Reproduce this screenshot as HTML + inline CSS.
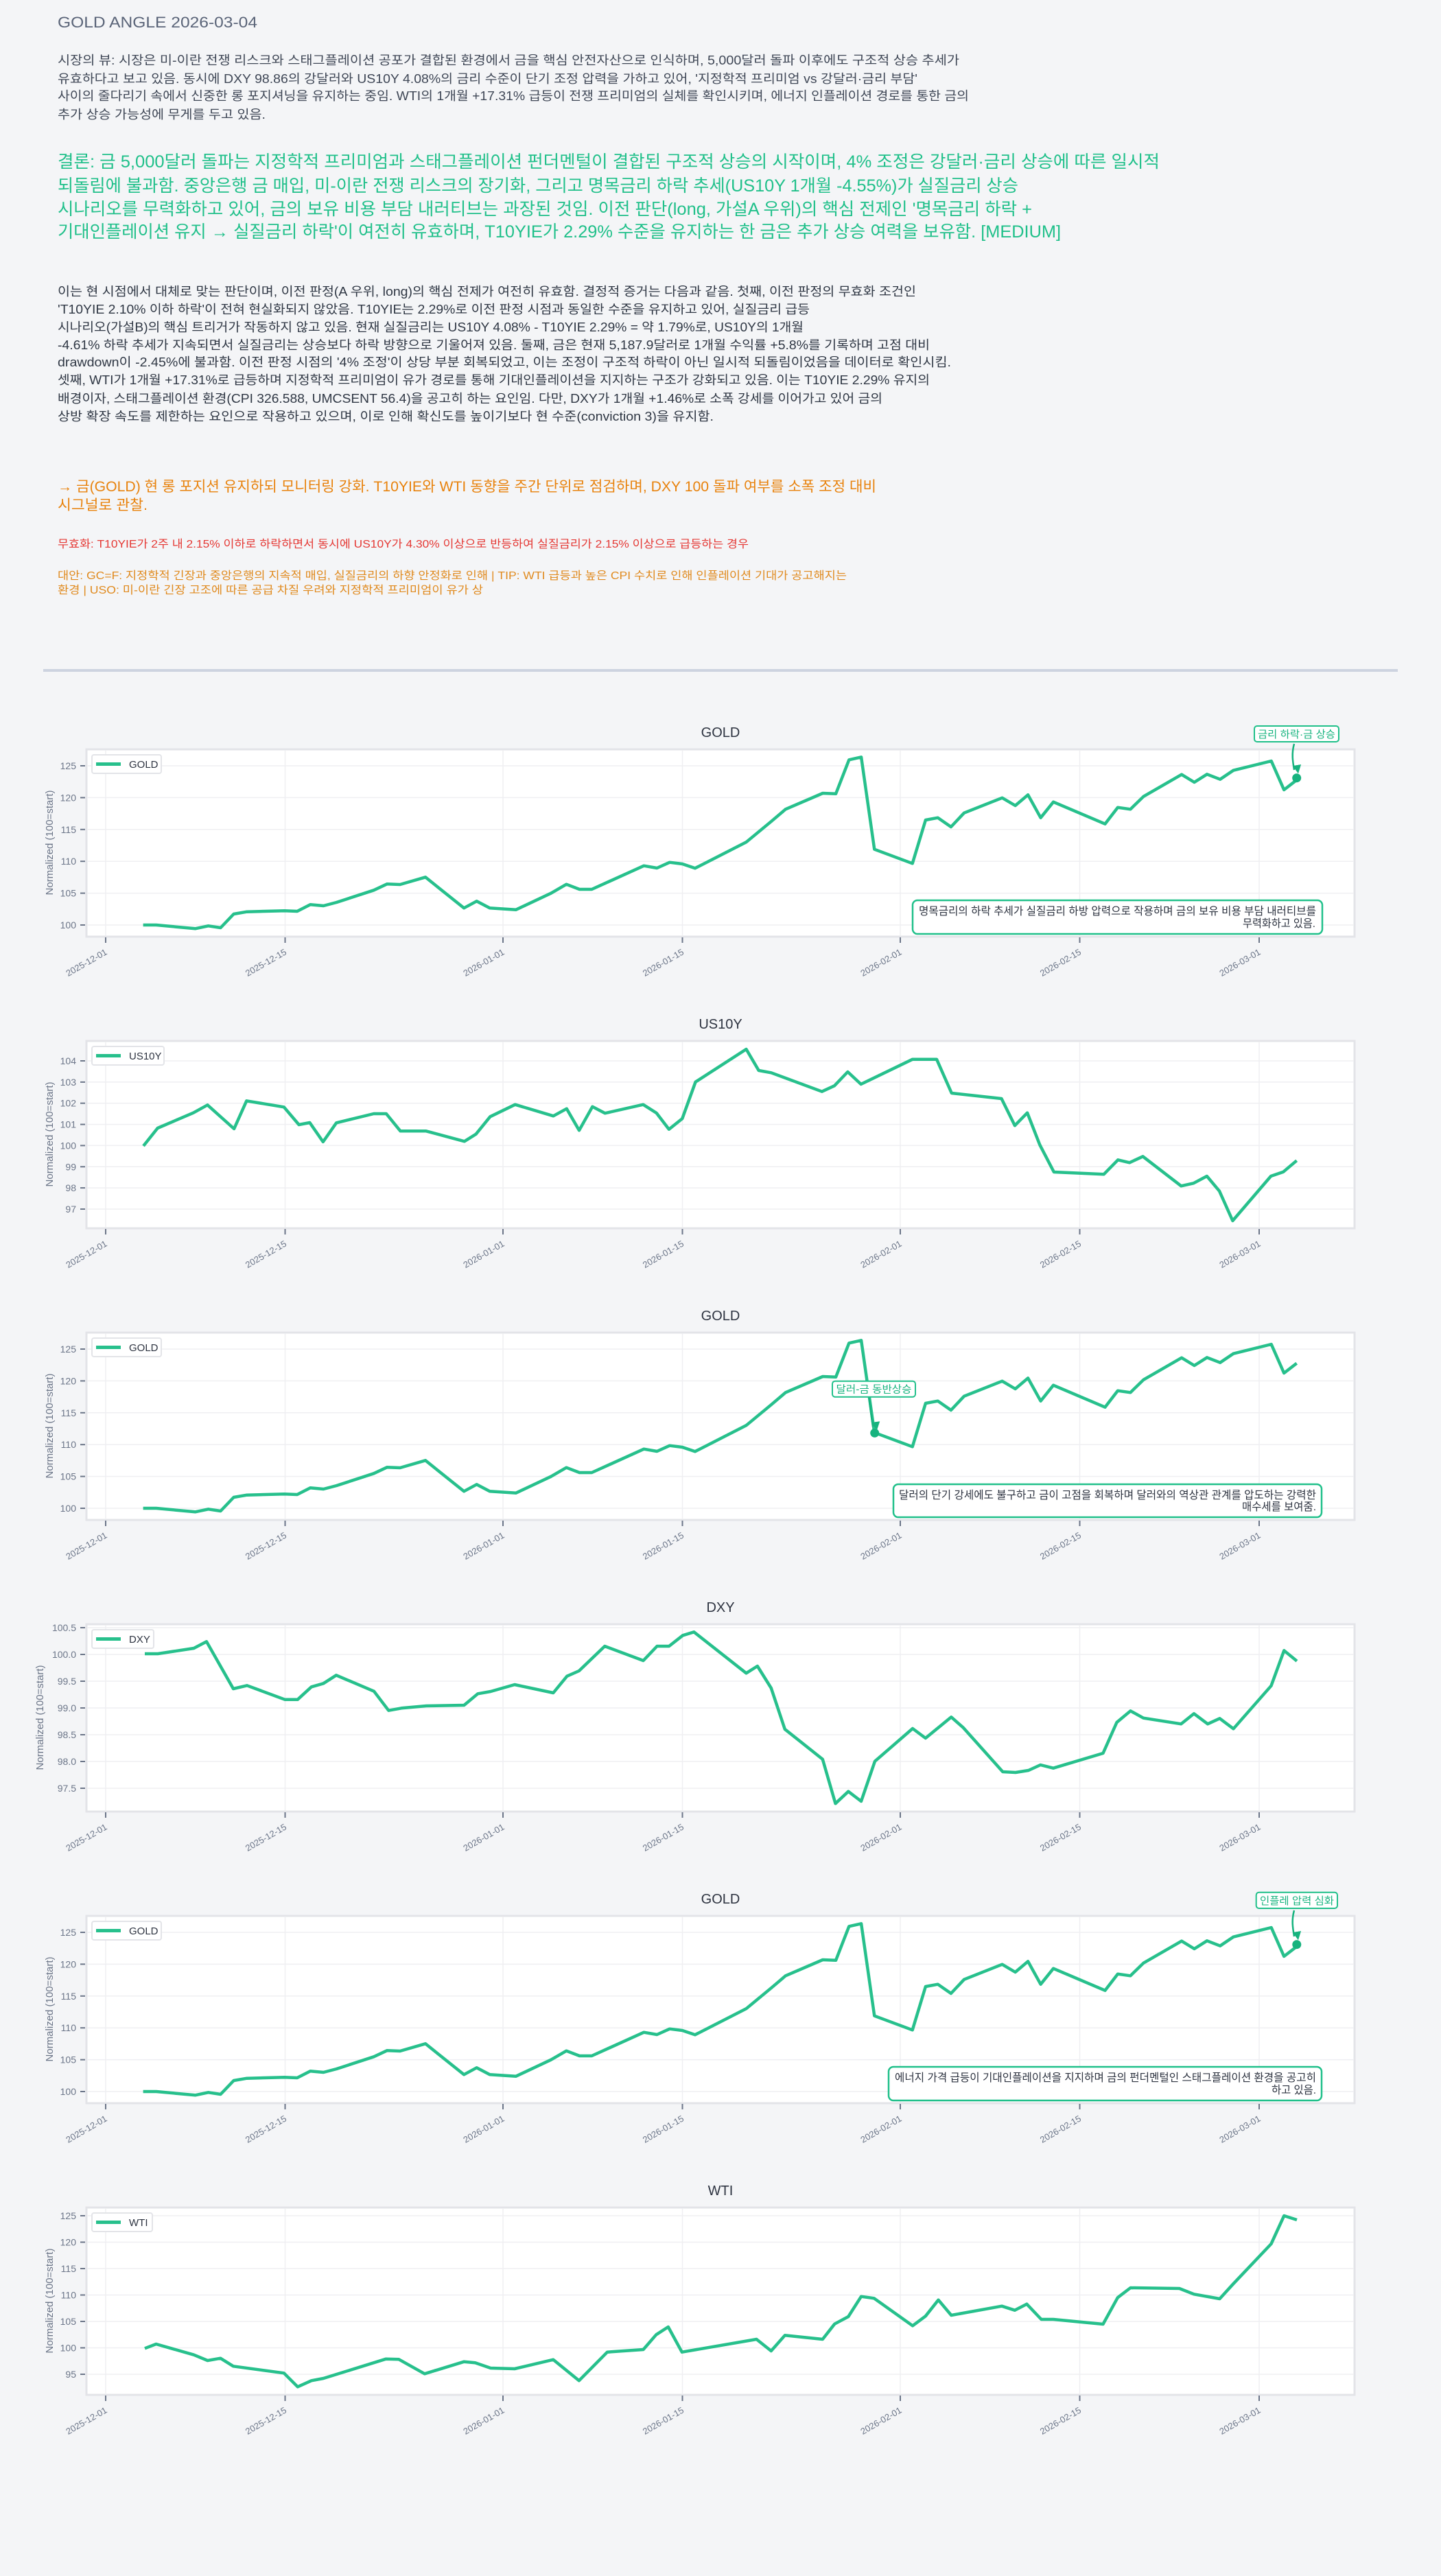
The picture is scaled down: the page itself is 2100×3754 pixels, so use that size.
<!DOCTYPE html>
<html><head><meta charset="utf-8"><style>
html,body{margin:0;padding:0;background:#f4f5f7;}
svg{display:block}
text{font-family:"Liberation Sans","Noto Sans CJK KR",sans-serif;}
</style></head><body>
<svg width="2100" height="3754" viewBox="0 0 2100 3754" xmlns="http://www.w3.org/2000/svg">
<defs>
<polyline id="gold" fill="none" stroke="#27c08c" stroke-width="4.5" stroke-linejoin="round" points="208.6,308 227.7,308 284.5,313.3 303.6,309.3 321.5,312 340.6,292 359.8,288.7 414.6,287.3 433.1,288 452.2,278.3 471.4,280 490.5,275 544.7,257.3 563.9,248.3 583,249 620,238.3 676.1,283.3 694.6,273.3 713.7,283.3 752,285.7 803,261.7 825.4,248.7 844.5,256 862.4,256 938.3,221.7 957.4,225 975.9,216.7 994.4,219 1012.9,225.3 1087.4,187.3 1124.4,156.7 1144.8,139.3 1199,116 1218.1,116.7 1237.3,67.3 1255.1,63.3 1274.3,197.7 1329.7,218.3 1348.9,155 1366.7,151.7 1385.9,165 1405,144.7 1460.5,122.7 1479.6,134 1498.1,118.3 1516.6,151.7 1535.1,128.7 1610.4,160.7 1628.9,136.7 1647.4,139.3 1666.5,120.7 1722,88.7 1740.5,100 1759,88.3 1778.1,95.7 1797.3,82.7 1852.7,69 1871.2,111 1889.7,96.7"/>
<g id="frame">
<rect x="126" y="52" width="1848" height="273" fill="#fff" stroke="#e3e4e8" stroke-width="3"/>
<g stroke="#efeff2" stroke-width="1.5">
<line x1="154" y1="53" x2="154" y2="324"/><line x1="415.5" y1="53" x2="415.5" y2="324"/><line x1="733" y1="53" x2="733" y2="324"/><line x1="994.5" y1="53" x2="994.5" y2="324"/><line x1="1312" y1="53" x2="1312" y2="324"/><line x1="1573.5" y1="53" x2="1573.5" y2="324"/><line x1="1835" y1="53" x2="1835" y2="324"/>
</g>
<g stroke="#6b7588" stroke-width="2">
<line x1="154" y1="326" x2="154" y2="334"/><line x1="415.5" y1="326" x2="415.5" y2="334"/><line x1="733" y1="326" x2="733" y2="334"/><line x1="994.5" y1="326" x2="994.5" y2="334"/><line x1="1312" y1="326" x2="1312" y2="334"/><line x1="1573.5" y1="326" x2="1573.5" y2="334"/><line x1="1835" y1="326" x2="1835" y2="334"/>
</g>
<g font-size="13" fill="#6b7588" text-anchor="end">
<text transform="translate(157,350) rotate(-30)">2025-12-01</text>
<text transform="translate(418.5,350) rotate(-30)">2025-12-15</text>
<text transform="translate(736,350) rotate(-30)">2026-01-01</text>
<text transform="translate(997.5,350) rotate(-30)">2026-01-15</text>
<text transform="translate(1315,350) rotate(-30)">2026-02-01</text>
<text transform="translate(1576.5,350) rotate(-30)">2026-02-15</text>
<text transform="translate(1838,350) rotate(-30)">2026-03-01</text>
</g>
</g>
<marker id="arr" viewBox="0 0 10 10" refX="5" refY="9" markerWidth="5" markerHeight="5" orient="auto-start-reverse"><path d="M0,0 L10,5 L0,10 z" fill="#16b37e"/></marker>
</defs>

<!-- Header text -->
<text x="84" y="40" font-size="22" fill="#5a6478" textLength="291" lengthAdjust="spacingAndGlyphs">GOLD ANGLE  2026-03-04</text>
<g font-size="18" fill="#3f4756">
<text x="84" y="94" textLength="1314" lengthAdjust="spacingAndGlyphs">시장의 뷰: 시장은 미-이란 전쟁 리스크와 스태그플레이션 공포가 결합된 환경에서 금을 핵심 안전자산으로 인식하며, 5,000달러 돌파 이후에도 구조적 상승 추세가</text>
<text x="84" y="121" textLength="1253" lengthAdjust="spacingAndGlyphs">유효하다고 보고 있음. 동시에 DXY 98.86의 강달러와 US10Y 4.08%의 금리 수준이 단기 조정 압력을 가하고 있어, '지정학적 프리미엄 vs 강달러·금리 부담'</text>
<text x="84" y="146" textLength="1328" lengthAdjust="spacingAndGlyphs">사이의 줄다리기 속에서 신중한 롱 포지셔닝을 유지하는 중임. WTI의 1개월 +17.31% 급등이 전쟁 프리미엄의 실체를 확인시키며, 에너지 인플레이션 경로를 통한 금의</text>
<text x="84" y="173" textLength="303" lengthAdjust="spacingAndGlyphs">추가 상승 가능성에 무게를 두고 있음.</text>
</g>
<g font-size="25" fill="#20c08a">
<text x="84" y="244" textLength="1606" lengthAdjust="spacingAndGlyphs">결론: 금 5,000달러 돌파는 지정학적 프리미엄과 스태그플레이션 펀더멘털이 결합된 구조적 상승의 시작이며, 4% 조정은 강달러·금리 상승에 따른 일시적</text>
<text x="84" y="279" textLength="1400" lengthAdjust="spacingAndGlyphs">되돌림에 불과함. 중앙은행 금 매입, 미-이란 전쟁 리스크의 장기화, 그리고 명목금리 하락 추세(US10Y 1개월 -4.55%)가 실질금리 상승</text>
<text x="84" y="313" textLength="1420" lengthAdjust="spacingAndGlyphs">시나리오를 무력화하고 있어, 금의 보유 비용 부담 내러티브는 과장된 것임. 이전 판단(long, 가설A 우위)의 핵심 전제인 '명목금리 하락 +</text>
<text x="84" y="346" textLength="1462" lengthAdjust="spacingAndGlyphs">기대인플레이션 유지 → 실질금리 하락'이 여전히 유효하며, T10YIE가 2.29% 수준을 유지하는 한 금은 추가 상승 여력을 보유함.  [MEDIUM]</text>
</g>
<g font-size="18" fill="#2f3744">
<text x="84" y="431" textLength="1251" lengthAdjust="spacingAndGlyphs">이는 현 시점에서 대체로 맞는 판단이며, 이전 판정(A 우위, long)의 핵심 전제가 여전히 유효함. 결정적 증거는 다음과 같음. 첫째, 이전 판정의 무효화 조건인</text>
<text x="84" y="457" textLength="1096" lengthAdjust="spacingAndGlyphs">'T10YIE 2.10% 이하 하락'이 전혀 현실화되지 않았음. T10YIE는 2.29%로 이전 판정 시점과 동일한 수준을 유지하고 있어, 실질금리 급등</text>
<text x="84" y="483" textLength="1087" lengthAdjust="spacingAndGlyphs">시나리오(가설B)의 핵심 트리거가 작동하지 않고 있음. 현재 실질금리는 US10Y 4.08% - T10YIE 2.29% = 약 1.79%로, US10Y의 1개월</text>
<text x="84" y="509" textLength="1271" lengthAdjust="spacingAndGlyphs">-4.61% 하락 추세가 지속되면서 실질금리는 상승보다 하락 방향으로 기울어져 있음. 둘째, 금은 현재 5,187.9달러로 1개월 수익률 +5.8%를 기록하며 고점 대비</text>
<text x="84" y="534" textLength="1302" lengthAdjust="spacingAndGlyphs">drawdown이 -2.45%에 불과함. 이전 판정 시점의 '4% 조정'이 상당 부분 회복되었고, 이는 조정이 구조적 하락이 아닌 일시적 되돌림이었음을 데이터로 확인시킴.</text>
<text x="84" y="560" textLength="1271" lengthAdjust="spacingAndGlyphs">셋째, WTI가 1개월 +17.31%로 급등하며 지정학적 프리미엄이 유가 경로를 통해 기대인플레이션을 지지하는 구조가 강화되고 있음. 이는 T10YIE 2.29% 유지의</text>
<text x="84" y="587" textLength="1202" lengthAdjust="spacingAndGlyphs">배경이자, 스태그플레이션 환경(CPI 326.588, UMCSENT 56.4)을 공고히 하는 요인임. 다만, DXY가 1개월 +1.46%로 소폭 강세를 이어가고 있어 금의</text>
<text x="84" y="613" textLength="956" lengthAdjust="spacingAndGlyphs">상방 확장 속도를 제한하는 요인으로 작용하고 있으며, 이로 인해 확신도를 높이기보다 현 수준(conviction 3)을 유지함.</text>
</g>
<g font-size="21" fill="#e8820c">
<text x="84" y="716" textLength="1193" lengthAdjust="spacingAndGlyphs">→ 금(GOLD) 현 롱 포지션 유지하되 모니터링 강화. T10YIE와 WTI 동향을 주간 단위로 점검하며, DXY 100 돌파 여부를 소폭 조정 대비</text>
<text x="84" y="743" textLength="131" lengthAdjust="spacingAndGlyphs">시그널로 관찰.</text>
</g>
<text x="84" y="798" font-size="16" fill="#e53935" textLength="1007" lengthAdjust="spacingAndGlyphs">무효화: T10YIE가 2주 내 2.15% 이하로 하락하면서 동시에 US10Y가 4.30% 이상으로 반등하여 실질금리가 2.15% 이상으로 급등하는 경우</text>
<g font-size="16" fill="#e08a1e">
<text x="84" y="844" textLength="1150" lengthAdjust="spacingAndGlyphs">대안: GC=F: 지정학적 긴장과 중앙은행의 지속적 매입, 실질금리의 하향 안정화로 인해  | TIP: WTI 급등과 높은 CPI 수치로 인해 인플레이션 기대가 공고해지는</text>
<text x="84" y="865" textLength="620" lengthAdjust="spacingAndGlyphs">환경 | USO: 미-이란 긴장 고조에 따른 공급 차질 우려와 지정학적 프리미엄이 유가 상</text>
</g>
<rect x="63" y="975" width="1974" height="4" fill="#cdd3e0"/>

<!-- Chart 1 GOLD -->
<g transform="translate(0,1040)">
<use href="#frame"/>
<g stroke="#efeff2" stroke-width="1.5"><line x1="127" y1="308" x2="1973" y2="308"/><line x1="127" y1="261.6" x2="1973" y2="261.6"/><line x1="127" y1="215.2" x2="1973" y2="215.2"/><line x1="127" y1="168.8" x2="1973" y2="168.8"/><line x1="127" y1="122.4" x2="1973" y2="122.4"/><line x1="127" y1="76" x2="1973" y2="76"/></g>
<g stroke="#6b7588" stroke-width="2"><line x1="117" y1="308" x2="124" y2="308"/><line x1="117" y1="261.6" x2="124" y2="261.6"/><line x1="117" y1="215.2" x2="124" y2="215.2"/><line x1="117" y1="168.8" x2="124" y2="168.8"/><line x1="117" y1="122.4" x2="124" y2="122.4"/><line x1="117" y1="76" x2="124" y2="76"/></g>
<g font-size="14" fill="#6b7588" text-anchor="end"><text x="111" y="313">100</text><text x="111" y="266.6">105</text><text x="111" y="220.2">110</text><text x="111" y="173.8">115</text><text x="111" y="127.4">120</text><text x="111" y="81">125</text></g>
<text transform="translate(77,188) rotate(-90)" font-size="15" fill="#6b7588" text-anchor="middle">Normalized (100=start)</text>
<text x="1050" y="34" font-size="20" fill="#2d3340" text-anchor="middle">GOLD</text>
<use href="#gold"/>
<rect x="134" y="60" width="101" height="27" rx="3" fill="#fff" stroke="#e3e4e8" stroke-width="2"/>
<line x1="140" y1="73.5" x2="176" y2="73.5" stroke="#27c08c" stroke-width="5"/>
<text x="188" y="79" font-size="15" fill="#2d3340">GOLD</text>
<circle cx="1889.7" cy="93.7" r="6.5" fill="#16b37e"/>
<rect x="1828" y="18" width="123" height="23" rx="4" fill="#fff" stroke="#20c08a" stroke-width="2"/>
<text x="1889.5" y="35" font-size="15" fill="#16b37e" text-anchor="middle" textLength="113" lengthAdjust="spacingAndGlyphs">금리 하락·금 상승</text>
<path d="M1886,44 C1882,58 1884,70 1886,82" fill="none" stroke="#16b37e" stroke-width="2.5" marker-end="url(#arr)"/>
<rect x="1330" y="272" width="597" height="49" rx="7" fill="#fff" stroke="#20c08a" stroke-width="2.5"/>
<text x="1918" y="293" font-size="16" fill="#2d3340" text-anchor="end" textLength="579" lengthAdjust="spacingAndGlyphs">명목금리의 하락 추세가 실질금리 하방 압력으로 작용하며 금의 보유 비용 부담 내러티브를</text>
<text x="1917" y="311" font-size="16" fill="#2d3340" text-anchor="end" textLength="106" lengthAdjust="spacingAndGlyphs">무력화하고 있음.</text>
</g>

<!-- Chart 2 US10Y -->
<g transform="translate(0,1465)">
<use href="#frame"/>
<g stroke="#efeff2" stroke-width="1.5"><line x1="127" y1="297" x2="1973" y2="297"/><line x1="127" y1="266.1" x2="1973" y2="266.1"/><line x1="127" y1="235.3" x2="1973" y2="235.3"/><line x1="127" y1="204.4" x2="1973" y2="204.4"/><line x1="127" y1="173.6" x2="1973" y2="173.6"/><line x1="127" y1="142.7" x2="1973" y2="142.7"/><line x1="127" y1="111.9" x2="1973" y2="111.9"/><line x1="127" y1="81" x2="1973" y2="81"/></g>
<g stroke="#6b7588" stroke-width="2"><line x1="117" y1="297" x2="124" y2="297"/><line x1="117" y1="266.1" x2="124" y2="266.1"/><line x1="117" y1="235.3" x2="124" y2="235.3"/><line x1="117" y1="204.4" x2="124" y2="204.4"/><line x1="117" y1="173.6" x2="124" y2="173.6"/><line x1="117" y1="142.7" x2="124" y2="142.7"/><line x1="117" y1="111.9" x2="124" y2="111.9"/><line x1="117" y1="81" x2="124" y2="81"/></g>
<g font-size="14" fill="#6b7588" text-anchor="end"><text x="111" y="302">97</text><text x="111" y="271.1">98</text><text x="111" y="240.3">99</text><text x="111" y="209.4">100</text><text x="111" y="178.6">101</text><text x="111" y="147.7">102</text><text x="111" y="116.9">103</text><text x="111" y="86">104</text></g>
<text transform="translate(77,188) rotate(-90)" font-size="15" fill="#6b7588" text-anchor="middle">Normalized (100=start)</text>
<text x="1050" y="34" font-size="20" fill="#2d3340" text-anchor="middle">US10Y</text>
<polyline fill="none" stroke="#27c08c" stroke-width="4.5" stroke-linejoin="round" points="209,205 229.7,179 281.8,156.7 302.4,145.3 341.1,180 359.3,139.3 413.8,148.3 435.6,174 451.4,171 470.8,199 490.2,171.3 544.7,158 562.9,158 583.5,183.3 621,183.3 676.8,198.3 693.7,187.7 714.3,162.3 750.7,144.7 806.4,161.3 825.8,150.7 844,182.3 863.4,147.7 881.6,157.3 937.3,144.7 956.7,157 974.9,180.7 994.2,165.3 1013.6,111.7 1087.5,64 1105.7,95 1123.9,98.3 1197.8,125.7 1216,117.3 1235.4,97 1254.7,115 1329.9,78.7 1365,78.7 1386.8,128 1459.5,136 1478.9,175.3 1497.1,156.7 1515.3,203.3 1535.9,243 1608.6,246.3 1629.2,225.3 1646.1,229.3 1665.5,220.3 1721.3,263.3 1739.4,259.3 1758.8,249 1777,270.7 1796.4,314 1852.1,249 1870.3,242.7 1889.7,226.3"/>
<rect x="134" y="60" width="105" height="27" rx="3" fill="#fff" stroke="#e3e4e8" stroke-width="2"/>
<line x1="140" y1="73.5" x2="176" y2="73.5" stroke="#27c08c" stroke-width="5"/>
<text x="188" y="79" font-size="15" fill="#2d3340">US10Y</text>
</g>

<!-- Chart 3 GOLD -->
<g transform="translate(0,1890)">
<use href="#frame"/>
<g stroke="#efeff2" stroke-width="1.5"><line x1="127" y1="308" x2="1973" y2="308"/><line x1="127" y1="261.6" x2="1973" y2="261.6"/><line x1="127" y1="215.2" x2="1973" y2="215.2"/><line x1="127" y1="168.8" x2="1973" y2="168.8"/><line x1="127" y1="122.4" x2="1973" y2="122.4"/><line x1="127" y1="76" x2="1973" y2="76"/></g>
<g stroke="#6b7588" stroke-width="2"><line x1="117" y1="308" x2="124" y2="308"/><line x1="117" y1="261.6" x2="124" y2="261.6"/><line x1="117" y1="215.2" x2="124" y2="215.2"/><line x1="117" y1="168.8" x2="124" y2="168.8"/><line x1="117" y1="122.4" x2="124" y2="122.4"/><line x1="117" y1="76" x2="124" y2="76"/></g>
<g font-size="14" fill="#6b7588" text-anchor="end"><text x="111" y="313">100</text><text x="111" y="266.6">105</text><text x="111" y="220.2">110</text><text x="111" y="173.8">115</text><text x="111" y="127.4">120</text><text x="111" y="81">125</text></g>
<text transform="translate(77,188) rotate(-90)" font-size="15" fill="#6b7588" text-anchor="middle">Normalized (100=start)</text>
<text x="1050" y="34" font-size="20" fill="#2d3340" text-anchor="middle">GOLD</text>
<use href="#gold"/>
<rect x="134" y="60" width="101" height="27" rx="3" fill="#fff" stroke="#e3e4e8" stroke-width="2"/>
<line x1="140" y1="73.5" x2="176" y2="73.5" stroke="#27c08c" stroke-width="5"/>
<text x="188" y="79" font-size="15" fill="#2d3340">GOLD</text>
<circle cx="1274.7" cy="198.3" r="6.5" fill="#16b37e"/>
<rect x="1213" y="122.7" width="121" height="23" rx="4" fill="#fff" stroke="#20c08a" stroke-width="2"/>
<text x="1273.5" y="139.5" font-size="15" fill="#16b37e" text-anchor="middle" textLength="110" lengthAdjust="spacingAndGlyphs">달러-금 동반상승</text>
<path d="M1266.5,147 C1268,160 1270,175 1272,189" fill="none" stroke="#16b37e" stroke-width="2.5" marker-end="url(#arr)"/>
<rect x="1302" y="273" width="624" height="48" rx="7" fill="#fff" stroke="#20c08a" stroke-width="2.5"/>
<text x="1918" y="294" font-size="16" fill="#2d3340" text-anchor="end" textLength="608" lengthAdjust="spacingAndGlyphs">달러의 단기 강세에도 불구하고 금이 고점을 회복하며 달러와의 역상관 관계를 압도하는 강력한</text>
<text x="1918" y="311" font-size="16" fill="#2d3340" text-anchor="end" textLength="108" lengthAdjust="spacingAndGlyphs">매수세를 보여줌.</text>
</g>

<!-- Chart 4 DXY -->
<g transform="translate(0,2315)">
<use href="#frame"/>
<g stroke="#efeff2" stroke-width="1.5"><line x1="127" y1="291" x2="1973" y2="291"/><line x1="127" y1="252" x2="1973" y2="252"/><line x1="127" y1="213" x2="1973" y2="213"/><line x1="127" y1="174" x2="1973" y2="174"/><line x1="127" y1="135" x2="1973" y2="135"/><line x1="127" y1="96" x2="1973" y2="96"/><line x1="127" y1="57" x2="1973" y2="57"/></g>
<g stroke="#6b7588" stroke-width="2"><line x1="117" y1="291" x2="124" y2="291"/><line x1="117" y1="252" x2="124" y2="252"/><line x1="117" y1="213" x2="124" y2="213"/><line x1="117" y1="174" x2="124" y2="174"/><line x1="117" y1="135" x2="124" y2="135"/><line x1="117" y1="96" x2="124" y2="96"/><line x1="117" y1="57" x2="124" y2="57"/></g>
<g font-size="14" fill="#6b7588" text-anchor="end"><text x="111" y="296">97.5</text><text x="111" y="257">98.0</text><text x="111" y="218">98.5</text><text x="111" y="179">99.0</text><text x="111" y="140">99.5</text><text x="111" y="101">100.0</text><text x="111" y="62">100.5</text></g>
<text transform="translate(63,188) rotate(-90)" font-size="15" fill="#6b7588" text-anchor="middle">Normalized (100=start)</text>
<text x="1050" y="34" font-size="20" fill="#2d3340" text-anchor="middle">DXY</text>
<polyline fill="none" stroke="#27c08c" stroke-width="4.5" stroke-linejoin="round" points="211,95 230,95 282.5,87 301,77.3 340,146 360,141.3 415,161.7 433.8,161.7 453.8,143.3 471.3,138.3 490,126.3 545,149.7 566.3,177.7 585,174.3 621.3,171 676.3,170 696.3,153.3 715,150 750,140 806.3,152 826.3,127.7 843.8,120 881.3,84 937.5,105 957.5,84 975,84 995,68.3 1011.3,63.3 1087.5,123.3 1103.8,113 1123.8,145 1143.8,205 1198.8,248.7 1217.5,313.3 1236.3,295.7 1255,310 1275,251.7 1330,204 1348.8,218 1386.3,187.3 1403.8,202.7 1461.3,267 1480,268 1498.8,265 1516.3,257 1535,261.7 1607.5,240 1627.5,195 1647.5,178.3 1666.3,188.7 1721.3,197.3 1740,182.3 1760,197.3 1777.5,189.3 1797.5,204.3 1852.5,141.7 1871.3,90.3 1890,105.7"/>
<rect x="134" y="60" width="90" height="27" rx="3" fill="#fff" stroke="#e3e4e8" stroke-width="2"/>
<line x1="140" y1="73.5" x2="176" y2="73.5" stroke="#27c08c" stroke-width="5"/>
<text x="188" y="79" font-size="15" fill="#2d3340">DXY</text>
</g>

<!-- Chart 5 GOLD -->
<g transform="translate(0,2740)">
<use href="#frame"/>
<g stroke="#efeff2" stroke-width="1.5"><line x1="127" y1="308" x2="1973" y2="308"/><line x1="127" y1="261.6" x2="1973" y2="261.6"/><line x1="127" y1="215.2" x2="1973" y2="215.2"/><line x1="127" y1="168.8" x2="1973" y2="168.8"/><line x1="127" y1="122.4" x2="1973" y2="122.4"/><line x1="127" y1="76" x2="1973" y2="76"/></g>
<g stroke="#6b7588" stroke-width="2"><line x1="117" y1="308" x2="124" y2="308"/><line x1="117" y1="261.6" x2="124" y2="261.6"/><line x1="117" y1="215.2" x2="124" y2="215.2"/><line x1="117" y1="168.8" x2="124" y2="168.8"/><line x1="117" y1="122.4" x2="124" y2="122.4"/><line x1="117" y1="76" x2="124" y2="76"/></g>
<g font-size="14" fill="#6b7588" text-anchor="end"><text x="111" y="313">100</text><text x="111" y="266.6">105</text><text x="111" y="220.2">110</text><text x="111" y="173.8">115</text><text x="111" y="127.4">120</text><text x="111" y="81">125</text></g>
<text transform="translate(77,188) rotate(-90)" font-size="15" fill="#6b7588" text-anchor="middle">Normalized (100=start)</text>
<text x="1050" y="34" font-size="20" fill="#2d3340" text-anchor="middle">GOLD</text>
<use href="#gold"/>
<rect x="134" y="60" width="101" height="27" rx="3" fill="#fff" stroke="#e3e4e8" stroke-width="2"/>
<line x1="140" y1="73.5" x2="176" y2="73.5" stroke="#27c08c" stroke-width="5"/>
<text x="188" y="79" font-size="15" fill="#2d3340">GOLD</text>
<circle cx="1889.8" cy="93.7" r="6.5" fill="#16b37e"/>
<rect x="1830.7" y="17.7" width="118.3" height="23.3" rx="4" fill="#fff" stroke="#20c08a" stroke-width="2"/>
<text x="1890" y="35" font-size="15" fill="#16b37e" text-anchor="middle" textLength="108" lengthAdjust="spacingAndGlyphs">인플레 압력 심화</text>
<path d="M1886,44 C1882,58 1884,70 1886,82" fill="none" stroke="#16b37e" stroke-width="2.5" marker-end="url(#arr)"/>
<rect x="1295" y="272" width="631" height="49" rx="7" fill="#fff" stroke="#20c08a" stroke-width="2.5"/>
<text x="1918" y="293" font-size="16" fill="#2d3340" text-anchor="end" textLength="614" lengthAdjust="spacingAndGlyphs">에너지 가격 급등이 기대인플레이션을 지지하며 금의 펀더멘털인 스태그플레이션 환경을 공고히</text>
<text x="1918" y="311" font-size="16" fill="#2d3340" text-anchor="end" textLength="65" lengthAdjust="spacingAndGlyphs">하고 있음.</text>
</g>

<!-- Chart 6 WTI -->
<g transform="translate(0,3165)">
<use href="#frame"/>
<g stroke="#efeff2" stroke-width="1.5"><line x1="127" y1="295" x2="1973" y2="295"/><line x1="127" y1="256.5" x2="1973" y2="256.5"/><line x1="127" y1="218" x2="1973" y2="218"/><line x1="127" y1="179.5" x2="1973" y2="179.5"/><line x1="127" y1="141" x2="1973" y2="141"/><line x1="127" y1="102.5" x2="1973" y2="102.5"/><line x1="127" y1="64" x2="1973" y2="64"/></g>
<g stroke="#6b7588" stroke-width="2"><line x1="117" y1="295" x2="124" y2="295"/><line x1="117" y1="256.5" x2="124" y2="256.5"/><line x1="117" y1="218" x2="124" y2="218"/><line x1="117" y1="179.5" x2="124" y2="179.5"/><line x1="117" y1="141" x2="124" y2="141"/><line x1="117" y1="102.5" x2="124" y2="102.5"/><line x1="117" y1="64" x2="124" y2="64"/></g>
<g font-size="14" fill="#6b7588" text-anchor="end"><text x="111" y="300">95</text><text x="111" y="261.5">100</text><text x="111" y="223">105</text><text x="111" y="184.5">110</text><text x="111" y="146">115</text><text x="111" y="107.5">120</text><text x="111" y="69">125</text></g>
<text transform="translate(77,188) rotate(-90)" font-size="15" fill="#6b7588" text-anchor="middle">Normalized (100=start)</text>
<text x="1050" y="34" font-size="20" fill="#2d3340" text-anchor="middle">WTI</text>
<polyline fill="none" stroke="#27c08c" stroke-width="4.5" stroke-linejoin="round" points="211,257.3 227.5,251 282.5,266.7 302.5,275 321.3,271.7 340,283.3 413.8,293.3 433.8,313.3 453.8,304.3 471.3,301 562.5,272.7 581.3,273.3 618.8,294.3 676.3,276.7 692.5,278.3 715,286 750,287 806.3,273.7 843.8,304.3 885,262.7 937.5,259 956.3,237.3 973.8,226 993.8,262.7 1102.5,244 1123.8,261 1143.8,238.3 1198.8,244 1216.3,221.7 1236.3,211 1255,181.7 1273.8,184.3 1330,224.3 1348.8,210.3 1367.5,186.7 1386.3,209 1460,195.7 1478.8,201.7 1496.3,192.7 1517.5,215 1535,215 1607.5,222 1628.8,183.3 1647.5,169 1718.8,170 1740,178.3 1777.5,185 1796.3,164.3 1852.5,105 1871.3,64 1890,70"/>
<rect x="134" y="60" width="88" height="27" rx="3" fill="#fff" stroke="#e3e4e8" stroke-width="2"/>
<line x1="140" y1="73.5" x2="176" y2="73.5" stroke="#27c08c" stroke-width="5"/>
<text x="188" y="79" font-size="15" fill="#2d3340">WTI</text>
</g>
</svg>
</body></html>
